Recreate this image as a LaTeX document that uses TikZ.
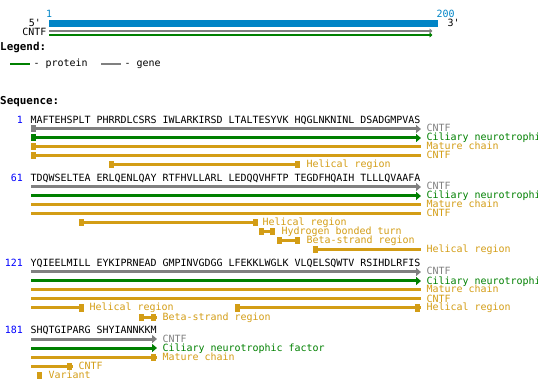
\documentclass[tikz,border=0pt]{standalone}
\usepackage{fontspec}
\newfontfamily\mono{DejaVu Sans Mono}
\usetikzlibrary{arrows.meta}
\definecolor{barblue}{RGB}{0,132,198}
\definecolor{numblue}{RGB}{0,0,255}
\definecolor{fgray}{RGB}{128,128,128}
\definecolor{fgreen}{RGB}{0,128,0}
\definecolor{fgold}{RGB}{211,157,22}
\tikzset{
  txt/.style={font=\mono\fontsize{9.96}{10}\selectfont, anchor=base west, inner sep=0pt},
  num/.style={font=\mono\fontsize{9.96}{10}\selectfont, anchor=base east, inner sep=0pt, text=numblue},
  ttl/.style={font=\mono\bfseries\fontsize{10.9}{11}\selectfont, anchor=base west, inner sep=0pt},
  feat/.style={line width=3pt},
  arr/.style={feat, -{Triangle[length=5pt,width=8pt]}},
}
\newcommand\mkr[3]{\fill[#3] (#1,#2-3.5) rectangle ++(5,7);}
\begin{document}
\begin{tikzpicture}[x=1pt,y=-1pt]
\useasboundingbox (0,0) rectangle (538,379);
\clip (0,0) rectangle (538,379);
% overview
\fill[barblue] (49,20) rectangle (438,27);
\node[txt, text=barblue] (o1) at (46,18) {1};
\node[txt, text=barblue] (o200) at (436.5,18) {200};
\node[txt, anchor=base east, text depth=0pt] (o5) at (41,27) {5'};
\node[txt, text depth=0pt] (o3) at (447.5,27) {3'};
\node[txt, anchor=base east] (ocn) at (46.5,35.5) {CNTF};
\draw[line width=2.6pt, fgray, -{Triangle[length=3pt,width=5pt]}] (49,31) -- (432.5,31);
\draw[line width=2.6pt, fgreen, -{Triangle[length=3pt,width=5pt]}] (49,35) -- (432.5,35);
% legend
\node[ttl] (leg) at (0,51) {Legend:};
\draw[line width=2.4pt, fgreen] (10,64) -- (30,64);
\node[txt] (lp) at (33.5,67) {- protein};
\draw[line width=2.4pt, fgray] (101,64) -- (121,64);
\node[txt] (lg) at (124.5,67) {- gene};
\node[ttl] (seqt) at (0,105) {Sequence:};
% row 1
\node[num] (n1) at (23,124) {1};
\node[txt] (s1) at (30.5,124) {MAFTEHSPLT PHRRDLCSRS IWLARKIRSD LTALTESYVK HQGLNKNINL DSADGMPVAS};
\draw[arr, fgray] (31,129) -- (421,129); \mkr{31}{129}{fgray}
\draw[arr, fgreen] (31,138) -- (421,138); \mkr{31}{138}{fgreen}
\draw[feat, fgold] (31,147) -- (421,147); \mkr{31}{147}{fgold}
\draw[feat, fgold] (31,156) -- (421,156); \mkr{31}{156}{fgold}
\draw[feat, fgold] (109,165) -- (300,165); \mkr{109}{165}{fgold} \mkr{295}{165}{fgold}
\node[txt, text=fgray] (l11) at (426.5,132) {CNTF};
\node[txt, text=fgreen] (l12) at (426.5,141) {Ciliary neurotrophic factor};
\node[txt, text=fgold] (l13) at (426.5,150) {Mature chain};
\node[txt, text=fgold] (l14) at (426.5,159) {CNTF};
\node[txt, text=fgold] (l15) at (306.5,168) {Helical region};
% row 2
\node[num] (n2) at (23,182) {61};
\node[txt] (s2) at (30.5,182) {TDQWSELTEA ERLQENLQAY RTFHVLLARL LEDQQVHFTP TEGDFHQAIH TLLLQVAAFA};
\draw[arr, fgray] (31,187) -- (421,187);
\draw[arr, fgreen] (31,196) -- (421,196);
\draw[feat, fgold] (31,205) -- (421,205);
\draw[feat, fgold] (31,214) -- (421,214);
\draw[feat, fgold] (79,223) -- (258,223); \mkr{79}{223}{fgold} \mkr{253}{223}{fgold}
\draw[feat, fgold] (259,232) -- (275,232); \mkr{259}{232}{fgold} \mkr{270}{232}{fgold}
\draw[feat, fgold] (277,241) -- (300,241); \mkr{277}{241}{fgold} \mkr{295}{241}{fgold}
\draw[feat, fgold] (313,250) -- (421,250); \mkr{313}{250}{fgold}
\node[txt, text=fgray] (l21) at (426.5,190) {CNTF};
\node[txt, text=fgreen] (l22) at (426.5,199) {Ciliary neurotrophic factor};
\node[txt, text=fgold] (l23) at (426.5,208) {Mature chain};
\node[txt, text=fgold] (l24) at (426.5,217) {CNTF};
\node[txt, text=fgold] (l25) at (262.5,226) {Helical region};
\node[txt, text=fgold] (l26) at (281.5,235) {Hydrogen bonded turn};
\node[txt, text=fgold] (l27) at (306.5,244) {Beta-strand region};
\node[txt, text=fgold] (l28) at (426.5,253) {Helical region};
% row 3
\node[num] (n3) at (23,267) {121};
\node[txt] (s3) at (30.5,267) {YQIEELMILL EYKIPRNEAD GMPINVGDGG LFEKKLWGLK VLQELSQWTV RSIHDLRFIS};
\draw[arr, fgray] (31,272) -- (421,272);
\draw[arr, fgreen] (31,281) -- (421,281);
\draw[feat, fgold] (31,290) -- (421,290);
\draw[feat, fgold] (31,299) -- (421,299);
\draw[feat, fgold] (31,308) -- (84,308); \mkr{79}{308}{fgold}
\draw[feat, fgold] (235,308) -- (421,308); \mkr{235}{308}{fgold} \mkr{415}{308}{fgold}
\draw[feat, fgold] (139,317) -- (157,317); \mkr{139}{317}{fgold} \mkr{151}{317}{fgold}
\node[txt, text=fgray] (l31) at (426.5,275) {CNTF};
\node[txt, text=fgreen] (l32) at (426.5,284) {Ciliary neurotrophic factor};
\node[txt, text=fgold] (l33) at (426.5,293) {Mature chain};
\node[txt, text=fgold] (l34) at (426.5,302) {CNTF};
\node[txt, text=fgold] (l35) at (89.5,311) {Helical region};
\node[txt, text=fgold] (l36) at (426.5,311) {Helical region};
\node[txt, text=fgold] (l37) at (162.5,320) {Beta-strand region};
% row 4
\node[num] (n4) at (23,334) {181};
\node[txt] (s4) at (30.5,334) {SHQTGIPARG SHYIANNKKM};
\draw[arr, fgray] (31,339) -- (157,339);
\draw[arr, fgreen] (31,348) -- (157,348);
\draw[feat, fgold] (31,357) -- (157,357); \mkr{151}{357}{fgold}
\draw[feat, fgold] (31,366) -- (73,366); \mkr{67}{366}{fgold}
\mkr{37}{375}{fgold}
\node[txt, text=fgray] (l41) at (162.5,342) {CNTF};
\node[txt, text=fgreen] (l42) at (162.5,351) {Ciliary neurotrophic factor};
\node[txt, text=fgold] (l43) at (162.5,360) {Mature chain};
\node[txt, text=fgold] (l44) at (78.5,369) {CNTF};
\node[txt, text=fgold] (l45) at (48.5,378) {Variant};
\end{tikzpicture}
\end{document}
